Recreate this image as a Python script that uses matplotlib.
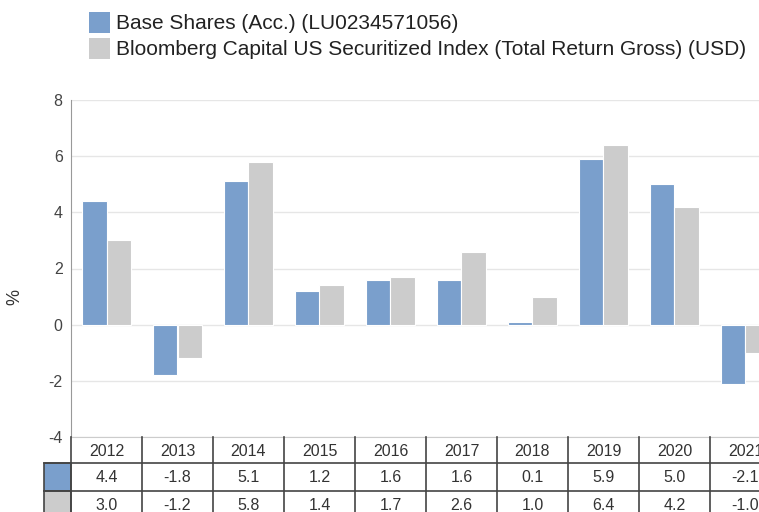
import matplotlib.pyplot as plt
from matplotlib.patches import Rectangle
import numpy as np

plt.rcParams['font.family'] = ['Liberation Sans', 'DejaVu Sans']
plt.rcParams['axes.unicode_minus'] = False

# data
years = ['2012', '2013', '2014', '2015', '2016', '2017', '2018', '2019', '2020', '2021']
fund = [4.4, -1.8, 5.1, 1.2, 1.6, 1.6, 0.1, 5.9, 5.0, -2.1]
index = [3.0, -1.2, 5.8, 1.4, 1.7, 2.6, 1.0, 6.4, 4.2, -1.0]
labels = ['Base Shares (Acc.) (LU0234571056)',
          'Bloomberg Capital US Securitized Index (Total Return Gross) (USD)']
colors = ['#7a9fcc', '#cccccc']

W, H = 759, 512
fig = plt.figure(figsize=(W / 100, H / 100), dpi=100)

def fx(px):
    return px / W

def fy(py):
    return 1 - py / H

# main chart axes (runs past the right edge like the original)
ax = fig.add_axes([fx(71), fy(437), fx(710), (437 - 100) / H])
x = np.arange(len(years))
w = 0.35
ax.bar(x - w / 2, fund, w, color=colors[0], edgecolor='white', linewidth=0.8, zorder=3)
ax.bar(x + w / 2, index, w, color=colors[1], edgecolor='white', linewidth=0.8, zorder=3)
ax.set_xlim(-0.5, len(years) - 0.5)
ax.set_ylim(-4, 8)
ax.set_yticks(range(-4, 9, 2))
ax.yaxis.grid(True, color='#e6e6e6', linewidth=1, zorder=0)
ax.set_xticks([])
for s in ['top', 'right']:
    ax.spines[s].set_visible(False)
ax.spines['left'].set_color('#999999')
ax.spines['bottom'].set_color('#cccccc')
ax.tick_params(axis='y', length=0, pad=6, labelsize=11.5, labelcolor='#444444')
fig.text(fx(15), fy(297), '%', rotation=90, ha='center', va='center',
         fontsize=13, color='#333333')

# data table below the chart
rows = [437, 463, 491, 519]
tab = fig.add_axes([fx(71), fy(rows[-1]), fx(710), (rows[-1] - rows[0]) / H])
tab.set_xlim(-0.5, len(years) - 0.5)
tab.set_ylim(rows[-1], rows[0])
tab.axis('off')
lc = '#444444'
lab_w = 27 / 71
fs = 11.5
for i, yr in enumerate(years):
    tab.text(i, (rows[0] + rows[1]) / 2 + 1, yr, ha='center', va='center', fontsize=fs, color='#333333')
    tab.text(i, (rows[1] + rows[2]) / 2 + 1, f'{fund[i]:.1f}', ha='center', va='center', fontsize=fs, color='#333333')
    tab.text(i, (rows[2] + rows[3]) / 2 + 1, f'{index[i]:.1f}', ha='center', va='center', fontsize=fs, color='#333333')
for i in range(len(years) + 1):
    tab.plot([i - 0.5, i - 0.5], [rows[0], rows[-1]], color=lc, lw=1.2, clip_on=False)
for r in rows[1:]:
    tab.plot([-0.5 - lab_w, len(years) - 0.5], [r, r], color=lc, lw=1.2, clip_on=False)
for k, c in enumerate(colors):
    tab.add_patch(Rectangle((-0.5 - lab_w, rows[k + 1]), lab_w, rows[k + 2] - rows[k + 1],
                            facecolor=c, edgecolor=lc, lw=1.2, clip_on=False))

# legend
for k, (lab, c) in enumerate(zip(labels, colors)):
    yc = 22.5 + 26 * k
    fig.add_artist(Rectangle((fx(89), fy(yc + 10.5)), fx(20.5), 21 / H,
                             facecolor=c, edgecolor='none'))
    fig.text(fx(116), fy(yc + 1), lab, ha='left', va='center', fontsize=15, color='#222222')

fig.savefig('out.png', dpi=100)
